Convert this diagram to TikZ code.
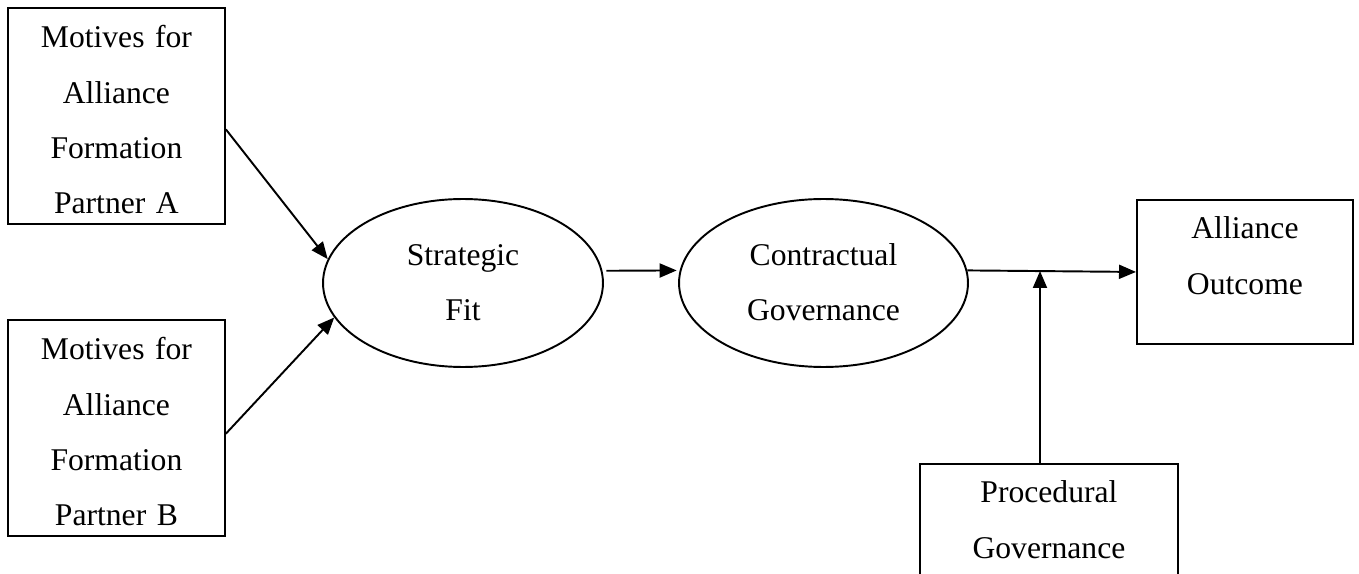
\documentclass[tikz,border=0pt]{standalone}
\usepackage{fontspec}
\setmainfont{Liberation Serif}
\usetikzlibrary{shapes,arrows.meta}

\begin{document}
\begin{tikzpicture}[x=0.02cm,y=-0.02cm,
  every node/.style={font=\fontsize{18}{31.5}\selectfont, line width=1.1pt, inner sep=0pt, align=center},
  motive/.style={draw, anchor=north west, text width=4.34cm, text height=0.8cm, text depth=3.52cm},
  factor/.style={draw, anchor=north west, text height=0.78cm, text depth=2.1cm},
  fitoval/.style={draw, ellipse, minimum height=3.36cm, text width=3.5cm, text height=0.3cm, text depth=1.02cm},
  arr/.style={line width=1.1pt, -{Triangle[length=0.34cm,width=0.28cm]}}]
  \useasboundingbox (0,0) rectangle (1359,574);

  \node[motive] (partnerA) at (7,7) {Motives for\\Alliance\\Formation\\Partner A};
  \node[motive] (partnerB) at (7,319) {Motives for\\Alliance\\Formation\\Partner B};

  \node[fitoval, minimum width=5.6cm] (fit) at (463,283) {Strategic\\Fit};
  \node[fitoval, minimum width=5.78cm] (contract) at (823.5,283) {Contractual\\Governance};

  \node[factor, text width=4.32cm] (outcome) at (1136,199) {Alliance\\Outcome};
  \node[factor, text width=5.16cm, text depth=2.08cm] (procedural) at (919,463) {Procedural\\Governance};
  \coordinate (join) at (1040,271);

  \draw[arr] (partnerA.-7) -- (fit.170);
  \draw[arr] (partnerB.-3) -- (fit.195);
  \draw[arr, shorten <=0.08cm, shorten >=0.06cm] (fit.5) -- (contract.175);
  \draw[arr] (contract.5) -- (outcome.west);
  \draw[arr] (procedural.north -| join) -- (join);
\end{tikzpicture}
\end{document}
